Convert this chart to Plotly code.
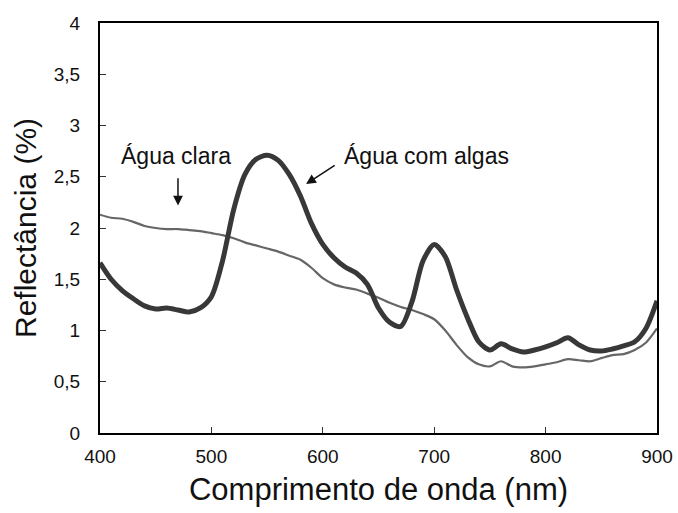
import plotly.graph_objects as go

# Wavelength grid (nm)
wavelength = [400, 410, 420, 430, 440, 450, 460, 470, 480, 490,
              500, 510, 520, 530, 540, 550, 560, 570, 580, 590,
              600, 610, 620, 630, 640, 650, 660, 670, 680, 690,
              700, 710, 720, 730, 740, 750, 760, 770, 780, 790,
              800, 810, 820, 830, 840, 850, 860, 870, 880, 890, 900]

# Reflectance (%) of water with algae
refl_algas = [1.66, 1.50, 1.39, 1.31, 1.24, 1.21, 1.22, 1.20, 1.18, 1.22,
              1.33, 1.68, 2.18, 2.52, 2.67, 2.71, 2.66, 2.52, 2.31, 2.04,
              1.84, 1.71, 1.62, 1.56, 1.45, 1.22, 1.08, 1.04, 1.28, 1.68,
              1.84, 1.72, 1.40, 1.12, 0.89, 0.81, 0.87, 0.82, 0.79, 0.81,
              0.84, 0.88, 0.93, 0.86, 0.81, 0.80, 0.82, 0.85, 0.89, 1.02, 1.29]

# Reflectance (%) of clear water
refl_clara = [2.13, 2.10, 2.09, 2.06, 2.02, 2.00, 1.99, 1.99, 1.98, 1.97,
              1.95, 1.93, 1.90, 1.86, 1.83, 1.80, 1.77, 1.73, 1.69, 1.61,
              1.51, 1.45, 1.42, 1.40, 1.36, 1.32, 1.27, 1.23, 1.20, 1.16,
              1.11, 1.00, 0.86, 0.74, 0.67, 0.65, 0.70, 0.65, 0.64, 0.65,
              0.67, 0.69, 0.72, 0.71, 0.70, 0.73, 0.76, 0.77, 0.81, 0.88, 1.02]

x_ticks = [400, 500, 600, 700, 800, 900]
y_ticks = [0, 0.5, 1, 1.5, 2, 2.5, 3, 3.5, 4]

FONT = "Liberation Sans, Arial, sans-serif"

fig = go.Figure()
fig.add_trace(go.Scatter(
    x=wavelength, y=refl_clara, mode="lines", name="Água clara",
    line=dict(color="#666666", width=2.2, shape="spline", smoothing=0.8),
))
fig.add_trace(go.Scatter(
    x=wavelength, y=refl_algas, mode="lines", name="Água com algas",
    line=dict(color="#383838", width=5, shape="spline", smoothing=0.8),
))

# Labels with pointing arrows
fig.add_annotation(x=468, y=2.70, text="Água clara", showarrow=False,
                   font=dict(size=23, color="#111111", family=FONT))
fig.add_annotation(x=470, y=2.22, ax=470, ay=2.50, axref="x", ayref="y",
                   text="", showarrow=True, arrowhead=2, arrowsize=1.3,
                   arrowwidth=1.5, arrowcolor="#111111")
fig.add_annotation(x=693, y=2.70, text="Água com algas", showarrow=False,
                   font=dict(size=23, color="#111111", family=FONT))
fig.add_annotation(x=585, y=2.43, ax=612, ay=2.62, axref="x", ayref="y",
                   text="", showarrow=True, arrowhead=2, arrowsize=1.3,
                   arrowwidth=1.5, arrowcolor="#111111")

fig.update_layout(
    width=678, height=513,
    margin=dict(l=100, r=21, t=23, b=80, autoexpand=False),
    paper_bgcolor="white", plot_bgcolor="white",
    showlegend=False,
    separators=",.",
    font=dict(family=FONT, color="#111111"),
)
fig.update_xaxes(
    range=[400, 900], tickvals=x_ticks, automargin=False,
    ticks="inside", ticklen=6, tickwidth=1, tickcolor="#333333",
    showline=True, linecolor="black", linewidth=2, mirror=True,
    showgrid=False, zeroline=False,
    tickfont=dict(size=19, family=FONT, color="#111111"),
    ticklabelstandoff=5,
    title=dict(text="Comprimento de onda (nm)", font=dict(size=31, family=FONT), standoff=13),
)
fig.update_yaxes(
    range=[0, 4], tickvals=y_ticks, automargin=False,
    ticks="inside", ticklen=6, tickwidth=1, tickcolor="#333333",
    showline=True, linecolor="black", linewidth=2, mirror=True,
    showgrid=False, zeroline=False,
    tickfont=dict(size=19, family=FONT, color="#111111"),
    ticklabelstandoff=14,
    title=dict(text="Reflectância (%)", font=dict(size=30, family=FONT), standoff=8),
)

fig.write_html("out.html")
